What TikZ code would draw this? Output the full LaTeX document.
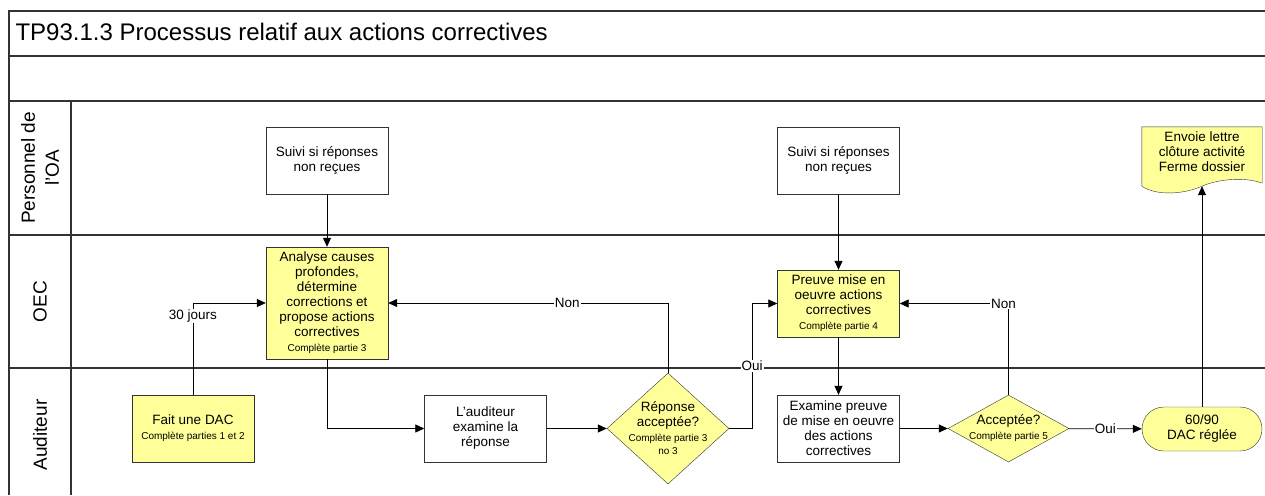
\documentclass[tikz,border=0pt]{standalone}
\usepackage{fontspec}
\setmainfont{Liberation Sans}
\usepackage{tikz}
\usetikzlibrary{arrows.meta,positioning,calc,shapes.geometric,backgrounds}
\definecolor{dacyellow}{HTML}{FFFF99}
\definecolor{lanegray}{HTML}{333333}
\newcommand{\partnote}[1]{{\fontsize{10}{11}\selectfont #1}}

\begin{document}
\begin{tikzpicture}[
      x=1pt,y=-1pt,
      font=\fontsize{13.5}{15}\selectfont,
      lane/.style={draw=lanegray,line width=1.1pt},
      lanelabel/.style={rotate=90,align=center,font=\fontsize{19}{24}\selectfont},
      box/.style={draw=black!80,fill=white,align=center,minimum width=122pt,minimum height=67pt,inner xsep=1pt,inner ysep=2pt},
      task/.style={box,fill=dacyellow},
      decision/.style={diamond,draw=black!80,fill=dacyellow,inner sep=0pt},
      terminal/.style={draw=black!80,fill=dacyellow,rounded corners=22pt,align=center,minimum width=120pt,minimum height=44pt},
      arrow/.style={-{Triangle[length=9pt,width=8pt]},line width=0.8pt},
      lbl/.style={fill=white,inner sep=1pt}
    ]
    \useasboundingbox (0,0) rectangle (1265,495);
    \draw[lane] (9,495) -- (9,11) -- (1266,11);
    \foreach \y in {56,101,235,368}
      \draw[lane] (9,\y) -- (1266,\y);
    \draw[lane] (71,101) -- (71,495);
    \node[anchor=base west,font=\fontsize{24}{28}\selectfont] (title) at (12,41) {TP93.1.3 Processus relatif aux actions correctives};
    \node[lanelabel] (lane-oa) at (40,168) {Personnel de\\l’OA};
    \node[lanelabel] (lane-oec) at (40,301.5) {OEC};
    \node[lanelabel] (lane-aud) at (40,435) {Auditeur};

    \node[box] (suivi-a) at (327,160.5) {Suivi si réponses\\non reçues};
    \node[task,minimum height=112pt] (analyse) at (327,303) {Analyse causes\\profondes,\\détermine\\corrections et\\propose actions\\correctives\\\partnote{Complète partie 3}};
    \node[task] (fait) at (193,428.5) {Fait une DAC\\\partnote{Complète parties 1 et 2}};
    \node[box] (examen) at (485.5,428.5) {L’auditeur\\examine la\\réponse};
    \node[decision,minimum width=122pt,minimum height=111pt,
      label={[align=center]center:Réponse\\acceptée?\\\partnote{Complète partie 3}\\[-2pt]\partnote{no 3}}] (reponse) at (668,428.5) {};
    \node[box] (suivi-b) at (838.5,160.5) {Suivi si réponses\\non reçues};
    \node[task] (preuve) at (838.5,303.5) {Preuve mise en\\oeuvre actions\\correctives\\\partnote{Complète partie 4}};
    \node[box] (examen-b) at (838.5,428.5) {Examine preuve\\de mise en oeuvre\\des actions\\correctives};
    \node[decision,minimum width=121pt,minimum height=67pt,
      label={[align=center]center:Acceptée?\\\partnote{Complète partie 5}}] (acceptee) at (1008.5,428.5) {};
    \node[terminal] (reglee) at (1202,429) {60/90\\DAC réglée};
    \node[align=center,minimum width=120pt,minimum height=50pt,inner sep=0pt] (lettre) at (1202,152) {Envoie lettre\\clôture activité\\Ferme dossier};
    \coordinate (wave) at ($(lettre.south)+(0,9)$);
    \begin{scope}[on background layer]
      \draw[draw=black!80,fill=dacyellow] (lettre.north west) -- (lettre.north east) -- ($(lettre.south east)+(0,6)$)
        .. controls +(-15,-6) and +(18,-8) .. (wave)
        .. controls +(-18,8) and +(15,10) .. ($(lettre.south west)+(0,9)$) -- cycle;
    \end{scope}

    \draw[arrow] (suivi-a) -- (analyse);
    \draw[arrow] (fait.north) |- node[lbl,pos=0.43] {30 jours} (analyse.west);
    \draw[arrow] (analyse.south) |- (examen.west);
    \draw[arrow] (examen) -- (reponse);
    \draw[arrow] (reponse.north) |- node[lbl,pos=0.68] {Non} (analyse.east);
    \draw[arrow] (reponse.east) -- ++(23,0) |- node[lbl,pos=0.25] {Oui} (preuve.west);
    \draw[arrow] (suivi-b) -- (preuve);
    \draw[arrow] (preuve) -- (examen-b);
    \draw[arrow] (examen-b) -- (acceptee);
    \draw[arrow] (acceptee.north) |- node[lbl,pos=0.5,xshift=-5pt] {Non} (preuve.east);
    \draw[arrow] (acceptee) -- node[lbl] {Oui} (reglee);
    \draw[arrow] (reglee) -- (wave);
  \end{tikzpicture}
\end{document}
